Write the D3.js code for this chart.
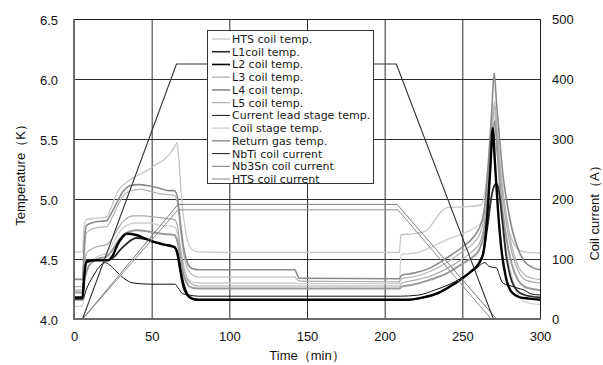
<!DOCTYPE html>
<html>
<head>
<meta charset="utf-8">
<script src="https://cdn.jsdelivr.net/npm/d3@7"></script>
<style>
  body { margin: 0; background: #fff; }
  svg { display: block; }
</style>
</head>
<body>
<svg id="chart" width="603" height="365"></svg>
<script>
// ---- axis ticks ----
const timeTicks = [0, 50, 100, 150, 200, 250, 300];
const tempTicks = [4.0, 4.5, 5.0, 5.5, 6.0, 6.5];
const currentTicks = [0, 100, 200, 300, 400, 500];

// ---- series: [time (min), temperature (K)] ----
const htsCoilTemp = [[0,4.56],[5.5,4.56],[6.5,4.76],[8,4.83],[14,4.84],[21,4.85],[23,4.9],[26,5.0],[29,5.08],[33,5.13],[40,5.19],[46,5.23],[52,5.28],[58,5.33],[62,5.38],[65,5.44],[66.3,5.47],[67.5,5.33],[69,5.05],[71,4.8],[73,4.66],[76,4.58],[80,4.56],[120,4.555],[180,4.555],[209.5,4.555],[210.5,4.70],[218,4.71],[226,4.73],[231,4.8],[236,4.89],[241,4.93],[252,4.935],[262,4.95],[265,5.1],[268,5.45],[270.5,5.72],[272.5,5.5],[275,5.15],[278,4.85],[282,4.66],[287,4.57],[292,4.555],[300,4.55]];
const l1CoilTemp = [[0,4.17],[5.5,4.17],[6.5,4.33],[8,4.47],[14,4.49],[22,4.49],[26,4.52],[30,4.58],[35,4.64],[40,4.675],[46,4.665],[52,4.64],[58,4.62],[64.5,4.6],[66.5,4.55],[68.5,4.42],[70.5,4.3],[73,4.21],[76,4.17],[80,4.16],[215,4.16],[225,4.18],[235,4.22],[242,4.27],[250,4.34],[256,4.4],[261,4.47],[264,4.58],[266.5,4.8],[268.5,5.0],[270.5,5.11],[272,5.13],[273.5,5.07],[275.5,4.85],[278,4.55],[281,4.35],[285,4.24],[290,4.2],[300,4.18]];
const l2CoilTemp = [[0,4.18],[5.5,4.18],[6.5,4.35],[8,4.48],[14,4.49],[22,4.49],[25,4.53],[28,4.62],[31,4.68],[34,4.71],[40,4.7],[46,4.67],[52,4.64],[58,4.62],[64.5,4.6],[66.5,4.55],[68.5,4.4],[70.5,4.27],[73,4.2],[76,4.17],[80,4.16],[215,4.16],[225,4.18],[235,4.22],[242,4.27],[250,4.34],[256,4.4],[261,4.47],[263.5,4.55],[266,4.85],[268,5.25],[269.6,5.59],[271,5.3],[273,4.9],[275,4.6],[278,4.35],[282,4.22],[287,4.18],[293,4.17],[300,4.16]];
const l3CoilTemp = [[0,4.24],[5.5,4.24],[6.5,4.4],[8,4.55],[14,4.6],[21,4.62],[25,4.68],[29,4.77],[33,4.83],[38,4.86],[45,4.86],[52,4.85],[58,4.84],[64.5,4.83],[66.5,4.78],[68.5,4.6],[70.5,4.45],[73,4.33],[76,4.29],[80,4.275],[209.5,4.275],[211,4.3],[218,4.32],[230,4.36],[240,4.42],[250,4.5],[257,4.57],[261,4.63],[264,4.78],[267,5.2],[269,5.55],[270.8,5.77],[272.5,5.55],[275,5.15],[278,4.82],[282,4.55],[286,4.4],[290,4.33],[295,4.31],[300,4.3]];
const l4CoilTemp = [[0,4.33],[5.5,4.33],[6.5,4.6],[8,4.78],[14,4.81],[21,4.82],[24,4.88],[28,4.98],[32,5.07],[36,5.11],[42,5.12],[48,5.11],[55,5.09],[61,5.07],[64.5,5.07],[66.5,5.02],[68.5,4.8],[70.5,4.6],[73,4.47],[76,4.42],[80,4.41],[142,4.41],[145,4.34],[209.5,4.335],[211,4.365],[218,4.38],[230,4.43],[240,4.51],[250,4.6],[257,4.68],[261,4.76],[264,4.9],[267,5.35],[269,5.75],[270.5,6.05],[272,5.8],[274,5.5],[276,5.22],[279,4.95],[282,4.75],[286,4.58],[290,4.48],[295,4.43],[300,4.41]];
const l5CoilTemp = [[0,4.27],[5.5,4.27],[6.5,4.5],[8,4.72],[14,4.76],[21,4.77],[24,4.83],[28,4.94],[32,5.03],[37,5.07],[43,5.08],[50,5.06],[57,5.04],[64.5,5.03],[66.5,4.97],[68.5,4.75],[70.5,4.55],[73,4.42],[76,4.37],[80,4.35],[142,4.35],[145,4.315],[209.5,4.31],[211,4.335],[218,4.35],[230,4.4],[240,4.47],[250,4.56],[257,4.63],[261,4.7],[264,4.85],[267,5.25],[269,5.6],[270.7,5.81],[272.5,5.55],[275,5.2],[278,4.9],[282,4.6],[286,4.44],[290,4.37],[295,4.34],[300,4.33]];
const currentLeadTemp = [[0,4.16],[5.5,4.16],[8,4.25],[12,4.35],[16,4.43],[20,4.47],[23,4.45],[27,4.4],[32,4.34],[38,4.3],[50,4.29],[60,4.29],[65,4.29],[67,4.26],[70,4.21],[74,4.2],[80,4.19],[210,4.19],[222,4.2],[232,4.24],[242,4.29],[252,4.36],[259,4.42],[264.5,4.47],[267,4.44],[270,4.43],[272,4.425],[274,4.36],[276,4.3],[280,4.28],[285,4.26],[290,4.24],[294,4.21],[300,4.2]];
const coilStageTemp = [[0,4.105],[5.5,4.105],[7,4.3],[10,4.45],[15,4.52],[21,4.55],[25,4.63],[29,4.72],[34,4.78],[40,4.8],[48,4.8],[56,4.78],[64.5,4.77],[66.5,4.72],[68.5,4.55],[70.5,4.42],[73,4.34],[76,4.31],[80,4.3],[142,4.3],[145,4.295],[209.5,4.295],[210.5,4.54],[220,4.55],[230,4.6],[240,4.66],[250,4.71],[258,4.76],[262,4.8],[265,4.98],[268,5.4],[270.5,5.75],[272.5,5.4],[275,4.95],[278,4.6],[282,4.35],[286,4.2],[291,4.14],[300,4.12]];
const returnGasTemp = [[0,4.22],[5.5,4.22],[7,4.35],[10,4.45],[15,4.5],[21,4.52],[25,4.58],[29,4.66],[34,4.72],[40,4.74],[48,4.73],[56,4.71],[64.5,4.7],[66.5,4.65],[68.5,4.5],[70.5,4.37],[73,4.29],[76,4.26],[80,4.255],[209.5,4.255],[211,4.27],[218,4.285],[230,4.33],[240,4.38],[250,4.46],[257,4.52],[261,4.58],[264,4.72],[267,5.1],[269,5.45],[270.8,5.65],[272.5,5.4],[275,5.0],[278,4.7],[282,4.45],[286,4.32],[290,4.27],[295,4.25],[300,4.24]];

// ---- series: [time (min), current (A)] ----
const nbtiCurrent  = [[0,0],[5.5,0],[66,425],[207.5,425],[270,0],[300,0]];
const nb3snCurrent = [[0,0],[5.5,0],[67,191],[208,191],[272,0],[300,0]];
const htsCurrent   = [[0,0],[5.5,0],[67,182],[208.5,182],[268.5,0],[300,0]];

// ---- legend entries (drawing order of the key) ----
const seriesNames = ["HTS coil temp.","L1coil temp.","L2 coil temp.","L3 coil temp.","L4 coil temp.","L5 coil temp.","Current lead stage temp.","Coil stage temp.","Return gas temp.","NbTi coil current","Nb3Sn coil current","HTS coil current"];
const seriesData = [htsCoilTemp,l1CoilTemp,l2CoilTemp,l3CoilTemp,l4CoilTemp,l5CoilTemp,currentLeadTemp,coilStageTemp,returnGasTemp,nbtiCurrent,nb3snCurrent,htsCurrent];
const seriesAxis = ["T","T","T","T","T","T","T","T","T","A","A","A"];

// ---- styling ----
const seriesColor = ["#c6c6c6","#2a2a2a","#000000","#a9a9a9","#8a8a8a","#b3b3b3","#111111","#cfcfcf","#9a9a9a","#333333","#7a7a7a","#8c8c8c"];
const seriesWidth = [1.3,1.8,2.4,1.2,1.6,1.2,1.0,1.3,2.0,1.1,1.0,1.0];

const svg = d3.select("#chart");
const L = 74, R = 540, T = 19, B = 319;

const x  = d3.scaleLinear().domain([0, 300]).range([L, R]);
const yT = d3.scaleLinear().domain([4, 6.5]).range([B, T]);
const yA = d3.scaleLinear().domain([0, 500]).range([B, T]);

const tickFont = "'Liberation Sans', Arial, sans-serif";

// grid
const grid = svg.append("g");
grid.append("g")
  .attr("transform", `translate(0,${B})`)
  .call(d3.axisBottom(x).tickValues(timeTicks.filter(d => d > 0 && d < 300)).tickSize(-(B - T)).tickFormat(""))
  .call(g => g.select(".domain").remove())
  .call(g => g.selectAll("line").attr("stroke", "#2b2b2b").attr("stroke-width", 1));
grid.append("g")
  .attr("transform", `translate(${L},0)`)
  .call(d3.axisLeft(yT).tickValues(tempTicks.filter(d => d > 4 && d < 6.5)).tickSize(-(R - L)).tickFormat(""))
  .call(g => g.select(".domain").remove())
  .call(g => g.selectAll("line").attr("stroke", "#2b2b2b").attr("stroke-width", 1));

// plot border (top / right)
svg.append("path")
  .attr("d", `M${L},${T + 0.5}H${R + 0.5}V${B}`)
  .attr("fill", "none").attr("stroke", "#1a1a1a").attr("stroke-width", 1);

// clip
svg.append("defs").append("clipPath").attr("id", "plotClip")
  .append("rect").attr("x", L).attr("y", T - 2).attr("width", R - L).attr("height", B - T + 2);

const lineT = d3.line().x(d => x(d[0])).y(d => yT(d[1])).curve(d3.curveMonotoneX);
const lineA = d3.line().x(d => x(d[0])).y(d => yA(d[1]));

const plot = svg.append("g").attr("clip-path", "url(#plotClip)");
// lighter traces first, dark ones on top
const order = [7, 0, 3, 5, 8, 4, 6, 1, 2, 11, 10, 9];
order.forEach(i => {
  plot.append("path")
    .datum(seriesData[i])
    .attr("d", seriesAxis[i] === "T" ? lineT : lineA)
    .attr("fill", "none")
    .attr("stroke", seriesColor[i])
    .attr("stroke-width", seriesWidth[i])
    .attr("stroke-linejoin", "round");
});

// axes
const axL = svg.append("g").attr("transform", `translate(${L},0)`)
  .call(d3.axisLeft(yT).tickValues(tempTicks).tickFormat(d3.format(".1f")).tickSize(0).tickPadding(16));
const axR = svg.append("g").attr("transform", `translate(${R},0)`)
  .call(d3.axisRight(yA).tickValues(currentTicks).tickSize(0).tickPadding(12));
const axB = svg.append("g").attr("transform", `translate(0,${B})`)
  .call(d3.axisBottom(x).tickValues(timeTicks).tickSize(0).tickPadding(13));
[axL, axR, axB].forEach(a => {
  a.selectAll("text").attr("font-family", tickFont).attr("font-size", 13).attr("fill", "#111");
  a.select(".domain").remove();
});
axR.selectAll("text").attr("dy", "0.36em");
axL.selectAll("text").attr("dy", "0.4em");

// axis lines (left / bottom)
svg.append("path")
  .attr("d", `M${L},${T}V${B}H${R + 1}`)
  .attr("fill", "none").attr("stroke", "#6a6a6a").attr("stroke-width", 2);

// axis titles
svg.append("text")
  .attr("x", (L + R) / 2).attr("y", 360)
  .attr("text-anchor", "middle")
  .attr("font-family", tickFont).attr("font-size", 13).attr("fill", "#111")
  .text("Time（min）");
svg.append("text")
  .attr("transform", "translate(25,172) rotate(-90)")
  .attr("text-anchor", "middle")
  .attr("font-family", tickFont).attr("font-size", 13).attr("fill", "#111")
  .text("Temperature（K）");
svg.append("text")
  .attr("transform", "translate(599,210) rotate(-90)")
  .attr("text-anchor", "middle")
  .attr("font-family", tickFont).attr("font-size", 13).attr("fill", "#111")
  .text("Coil current（A）");

// legend
const lg = svg.append("g");
lg.append("rect")
  .attr("x", 207.5).attr("y", 30.5).attr("width", 166).attr("height", 153)
  .attr("fill", "#fff").attr("stroke", "#333").attr("stroke-width", 1);
const step = 12.73;
seriesNames.forEach((name, i) => {
  const yy = 39 + i * step;
  lg.append("line")
    .attr("x1", 212).attr("x2", 230).attr("y1", yy).attr("y2", yy)
    .attr("stroke", seriesColor[i]).attr("stroke-width", Math.min(seriesWidth[i], 1.6));
  lg.append("text")
    .attr("x", 232).attr("y", yy).attr("dy", "0.36em")
    .attr("font-family", "'DejaVu Sans', sans-serif").attr("font-size", 11).attr("fill", "#1a1a1a")
    .text(name);
});
</script>
</body>
</html>
